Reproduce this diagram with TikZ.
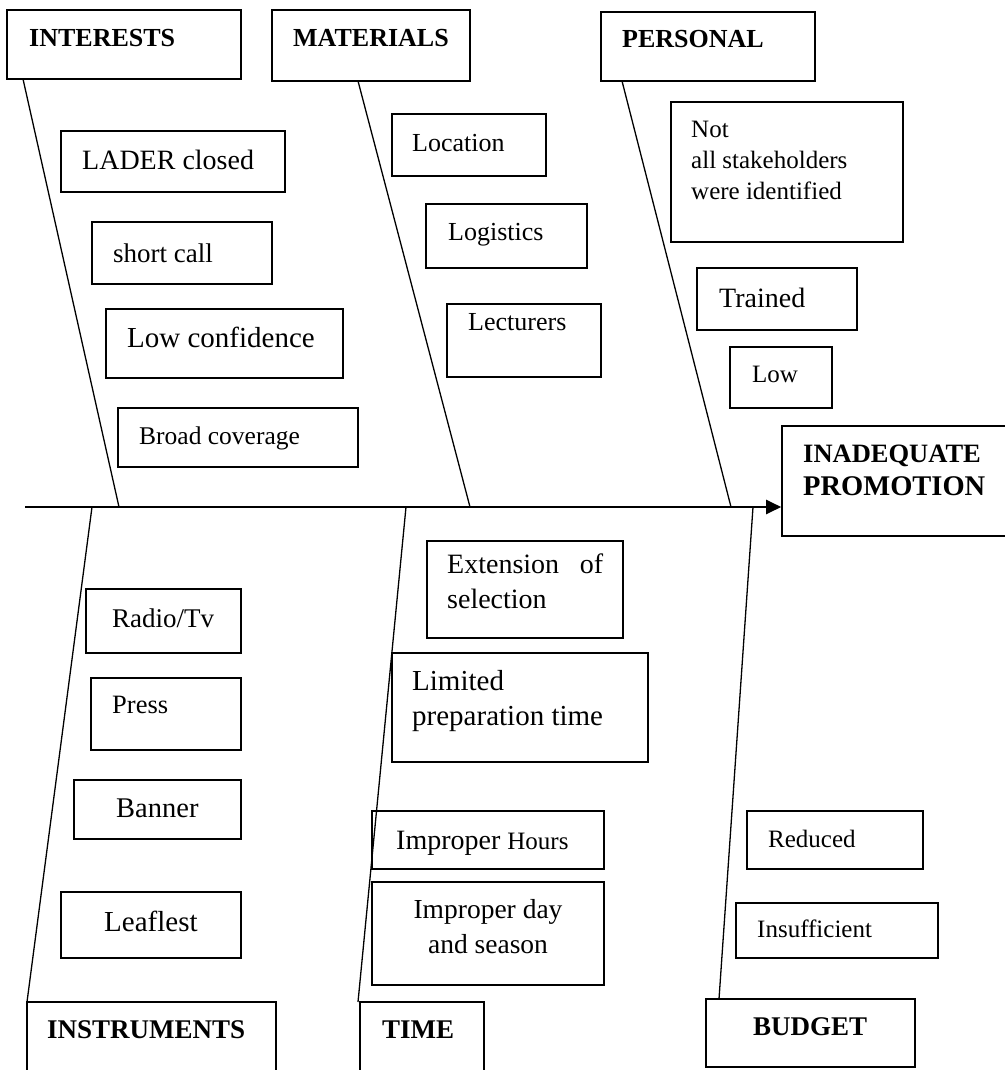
\documentclass[tikz,border=0pt]{standalone}
\usepackage{fontspec}
\setmainfont{Liberation Serif}
\usetikzlibrary{arrows.meta}
\tikzset{
  bx/.style={draw, line width=1.6pt, inner sep=0pt},
  tx/.style={inner sep=0pt, anchor=base west, align=left},
  bone/.style={line width=1.3pt},
  spine/.style={line width=2pt, -{Triangle[length=15pt,width=14pt]}},
}
\newcommand\fs[2]{\fontsize{#1}{#2}\selectfont}
\newcommand\bx[5]{%
  \pgfmathsetmacro\bw{#4-#2}\pgfmathsetmacro\bh{#5-#3}%
  \node[bx,minimum width=\bw pt,minimum height=\bh pt] (#1) at ({(#2+#4)/2},{(#3+#5)/2}) {};}
\begin{document}
\begin{tikzpicture}[x=1pt,y=-1pt]
\useasboundingbox (0,0) rectangle (1004,1070);
% ---------- boxes ----------
% categories
\bx{interests}{7}{10}{241}{79}
\bx{materials}{272}{10}{470}{81}
\bx{personal}{601}{12}{815}{81}
\bx{instruments}{27}{1002}{276}{1085}
\bx{time}{360}{1002}{484}{1085}
\bx{budget}{706}{999}{915}{1067}
\bx{effect}{782}{426}{1015}{536}
% interests causes
\bx{lader}{61}{131}{285}{192}
\bx{short}{92}{222}{272}{284}
\bx{lowconf}{106}{309}{343}{378}
\bx{broad}{118}{408}{358}{467}
% materials causes
\bx{location}{392}{114}{546}{176}
\bx{logistics}{426}{204}{587}{268}
\bx{lecturers}{447}{304}{601}{377}
% personal causes
\bx{notall}{671}{102}{903}{242}
\bx{trained}{697}{268}{857}{330}
\bx{low}{730}{347}{832}{408}
% instruments causes
\bx{radio}{86}{589}{241}{653}
\bx{press}{91}{678}{241}{750}
\bx{banner}{74}{780}{241}{839}
\bx{leaflest}{61}{892}{241}{958}
% time causes
\bx{extension}{427}{541}{623}{638}
\bx{limited}{392}{653}{648}{762}
\bx{hours}{372}{811}{604}{869}
\bx{day}{372}{882}{604}{985}
% budget causes
\bx{reduced}{747}{811}{923}{869}
\bx{insuff}{736}{903}{938}{958}
% ---------- texts ----------
\begin{scope}[every node/.style={tx}]
\node[font=\bfseries\fs{26}{30}] (tinterests) at (29,47) {INTERESTS};
\node[font=\bfseries\fs{26}{30}] (tmaterials) at (293,47) {MATERIALS};
\node[font=\bfseries\fs{26}{30}] (tpersonal) at (622,48) {PERSONAL};
\node[font=\bfseries\fs{27}{30}] (tinstruments) at (47,1038) {INSTRUMENTS};
\node[font=\bfseries\fs{27}{30}] (ttime) at (382,1038) {TIME};
\node[font=\bfseries\fs{27}{30}] (tbudget) at (753,1035) {BUDGET};
\node[font=\bfseries\fs{26.5}{30}] (teffect1) at (803,462) {INADEQUATE};
\node[font=\bfseries\fs{28.5}{30}] (teffect2) at (803,495) {PROMOTION};
\node[font=\fs{28}{31}] (tlader) at (82,169) {LADER closed};
\node[font=\fs{27}{31}] (tshort) at (113,262) {short call};
\node[font=\fs{29}{31}] (tlowconf) at (127,347) {Low confidence};
\node[font=\fs{25.5}{31}] (tbroad) at (139,444) {Broad coverage};
\node[font=\fs{26}{31}] (tlocation) at (412,151) {Location};
\node[font=\fs{26}{31}] (tlogistics) at (448,240) {Logistics};
\node[font=\fs{26}{31}] (tlecturers) at (468,330) {Lecturers};
\node[font=\fs{25}{31}] (tnotall1) at (691,137) {Not};
\node[font=\fs{25}{31}] (tnotall2) at (691,168) {all stakeholders};
\node[font=\fs{25}{31}] (tnotall3) at (691,199) {were identified};
\node[font=\fs{28}{31}] (ttrained) at (719,307) {Trained};
\node[font=\fs{25}{31}] (tlow) at (752,382) {Low};
\node[font=\fs{27}{31}] (tradio) at (112,627) {Radio/Tv};
\node[font=\fs{26.5}{31}] (tpress) at (112,713) {Press};
\node[font=\fs{28.5}{31}] (tbanner) at (116,817) {Banner};
\node[font=\fs{29}{31}] (tleaflest) at (104,931) {Leaflest};
\node[font=\fs{28}{31}] (text1) at (447,573) {\hbox to 156pt{Extension\hfill of}};
\node[font=\fs{28}{31}] (text2) at (447,608) {selection};
\node[font=\fs{29}{31}] (tlim1) at (412,690) {Limited};
\node[font=\fs{29}{31}] (tlim2) at (412,725) {preparation time};
\node[font=\fs{28}{31}] (thours) at (396,849) {Improper {\fs{25}{31}Hours}};
\node[font=\fs{27.5}{31},anchor=base] (tday1) at (488,918) {Improper day};
\node[font=\fs{27.5}{31},anchor=base] (tday2) at (488,953) {and season};
\node[font=\fs{25}{31}] (treduced) at (768,847) {Reduced};
\node[font=\fs{25}{31}] (tinsuff) at (757,937) {Insufficient};
\end{scope}
% ---------- bones ----------
\coordinate (bInt) at (23,79);
\coordinate (bMat) at (358,81);
\coordinate (bPer) at (622,81);
\coordinate (sInt) at (119,507);
\coordinate (sMat) at (470,507);
\coordinate (sPer) at (731,507);
\coordinate (sIns) at (92,507);
\coordinate (sTim) at (406,507);
\coordinate (sBud) at (753,507);
\coordinate (bIns) at (27,1002);
\coordinate (bTim) at (358,1002);
\coordinate (bBud) at (719,999);
\coordinate (tail) at (25,507);
\draw[bone] (bInt) -- (sInt);
\draw[bone] (bMat) -- (sMat);
\draw[bone] (bPer) -- (sPer);
\draw[bone] (sIns) -- (bIns);
\draw[bone] (sTim) -- (bTim);
\draw[bone] (sBud) -- (bBud);
\draw[spine] (tail) -- (effect.west |- tail);
\end{tikzpicture}
\end{document}
